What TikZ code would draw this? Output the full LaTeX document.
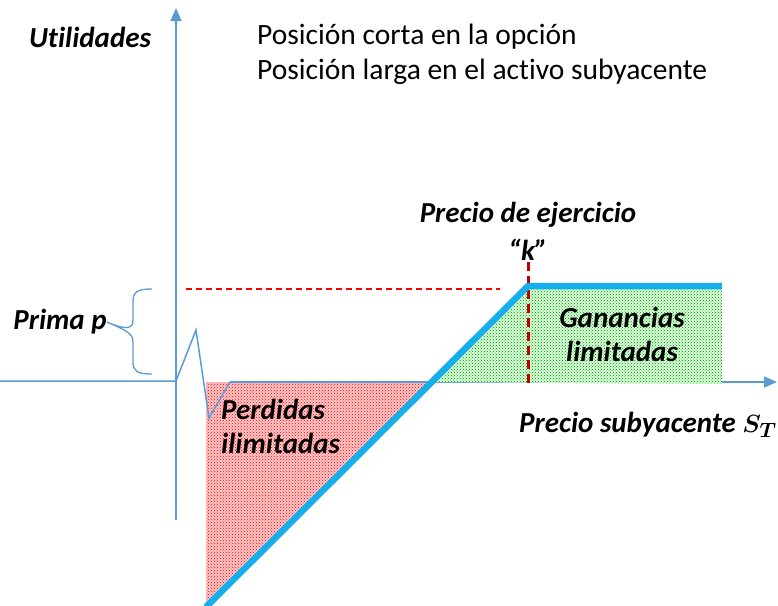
\documentclass[tikz,border=0pt]{standalone}
\usepackage{fontspec}
\setmainfont[Ligatures=NoCommon]{Carlito}
\usetikzlibrary{arrows.meta,patterns}
\definecolor{axisblue}{HTML}{5B9BD5}
\definecolor{lineblue}{HTML}{17AEEC}
\definecolor{darkred}{HTML}{C00000}
\definecolor{dashred}{HTML}{FF0000}
\begin{document}
\begin{tikzpicture}[x=1pt,y=-1pt,
 axis/.style={axisblue,line width=1.5pt},
 axtip/.style={-{Triangle[length=13pt,width=11pt]}},
 lbl/.style={font=\fontsize{29}{33}\selectfont\bfseries\itshape,inner sep=0pt},
 txt/.style={font=\fontsize{29.5}{34}\selectfont,inner sep=0pt,anchor=west},
 bracestyle/.style={axisblue,line width=1.3pt},
 payoff/.style={lineblue,line width=6.5pt},
]
\useasboundingbox (0,0) rectangle (778,605);
% coordinates
\coordinate (O) at (176,381);
\coordinate (ytop) at (176,8);
\coordinate (ybot) at (176,520);
\coordinate (xl) at (0,381);
\coordinate (z1) at (196,330);
\coordinate (z2) at (209,418);
\coordinate (z3) at (230,382);
\coordinate (xr) at (777,382);
\coordinate (be) at (431,382);
\coordinate (kink) at (528,286);
\coordinate (pend) at (722,286);
\coordinate (pstart) at (206,607);
% fills
\fill[red!22] (206,382) -- (be) -- (pstart) -- (206,607) -- cycle;
\fill[pattern=crosshatch dots, pattern color=red] (206,382) -- (be) -- (pstart) -- (206,607) -- cycle;
% axes
\draw[axis,axtip] (ybot) -- (ytop);
\draw[axis] (xl) -- (O) -- (z1) -- (z2) -- (z3);
\draw[axis,axtip] (z3) -- (xr);
\fill[green!15] (be) -- (kink) -- (pend) -- (722,384) -- cycle;
\fill[pattern=crosshatch dots, pattern color=green!55!black] (be) -- (kink) -- (pend) -- (722,384) -- cycle;
% dashed lines
\draw[dashred,line width=1.3pt,dash pattern=on 6pt off 4pt] (186,289) -- (500,289);
\draw[darkred,line width=3pt,dash pattern=on 9pt off 5pt] (528,262) -- (528,384);
% payoff
\draw[payoff] (pstart) -- (kink) -- (pend);
% texts
\node[lbl] (util) at (90,37) {Utilidades};
\node[txt] (t1) at (257,37) {Posición corta en la opción};
\node[txt] (t2) at (257,72) {Posición larga en el activo subyacente};
\node[lbl] (precio) at (528,215) {Precio de ejercicio};
\node[lbl] (k) at (528,250) {“k”};
\node[lbl] (prima) at (60,322) {Prima p};
\node[lbl,align=left,anchor=north west] (perd) at (221,399) {Perdidas\\[1pt]ilimitadas};
\node[lbl,align=center] (gan) at (622,334) {Ganancias\\[1pt]limitadas};
\node[lbl,anchor=west] (st) at (519,425) {Precio subyacente {\boldmath$S_T$}};
% brace
\draw[bracestyle] (152,289) .. controls (137,289) and (133,292) .. (133,302) -- (133,320) .. controls (133,328) and (128,331) .. (prima.east) .. controls (128,331) and (133,334) .. (133,342) -- (133,362) .. controls (133,371) and (137,374) .. (152,374);
\end{tikzpicture}
\end{document}
